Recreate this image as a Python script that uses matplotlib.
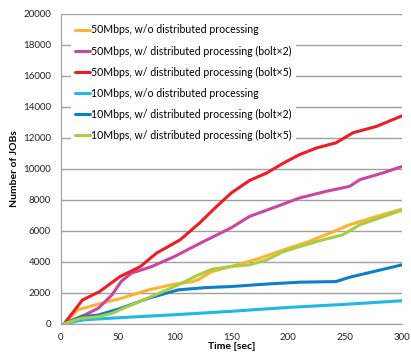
import matplotlib
matplotlib.use('Agg')
import matplotlib.pyplot as plt

plt.rcParams['font.family'] = ['Lato', 'DejaVu Sans']

# time [sec] and number of JOBs
t_50_wo = [3, 15, 30, 53, 77, 100, 116, 121, 133, 151, 175, 196, 216, 240, 254, 278, 300]
v_50_wo = [0, 890, 1210, 1640, 2180, 2550, 2720, 2850, 3370, 3720, 4230, 4770, 5250, 5950, 6390, 6930, 7400]

t_50_b2 = [3, 21, 33, 45, 53, 62, 80, 100, 124, 150, 166, 190, 210, 233, 254, 263, 283, 300]
v_50_b2 = [0, 560, 1000, 1860, 2720, 3260, 3690, 4340, 5250, 6200, 6930, 7570, 8120, 8540, 8870, 9300, 9730, 10150]

t_50_b5 = [3, 19, 34, 52, 70, 84, 105, 122, 136, 150, 166, 181, 196, 210, 225, 242, 257, 278, 300]
v_50_b5 = [0, 1530, 2070, 3040, 3690, 4550, 5420, 6500, 7500, 8450, 9250, 9730, 10380, 10920, 11350, 11680, 12330, 12750, 13420]

t_10_wo = [3, 20, 50, 100, 150, 200, 250, 300]
v_10_wo = [0, 250, 380, 580, 800, 1050, 1250, 1480]

t_10_b2 = [3, 18, 33, 53, 77, 103, 127, 150, 181, 210, 242, 254, 300]
v_10_b2 = [0, 450, 560, 1000, 1640, 2180, 2330, 2400, 2560, 2680, 2720, 3000, 3800]

t_10_b5 = [3, 18, 33, 45, 62, 83, 103, 121, 133, 150, 166, 181, 196, 225, 248, 263, 300]
v_10_b5 = [0, 350, 450, 670, 1210, 1860, 2500, 3150, 3520, 3700, 3800, 4120, 4660, 5310, 5740, 6390, 7330]

series = [
    (t_50_wo, v_50_wo, '#FFB22E', '50Mbps, w/o distributed processing'),
    (t_50_b2, v_50_b2, '#C9479F', '50Mbps, w/ distributed processing (bolt×2)'),
    (t_50_b5, v_50_b5, '#EE1C25', '50Mbps, w/ distributed processing (bolt×5)'),
    (t_10_wo, v_10_wo, '#1EB9EA', '10Mbps, w/o distributed processing'),
    (t_10_b2, v_10_b2, '#0B80C9', '10Mbps, w/ distributed processing (bolt×2)'),
    (t_10_b5, v_10_b5, '#A6CE45', '10Mbps, w/ distributed processing (bolt×5)'),
]

fig = plt.figure(figsize=(4.11, 3.54), dpi=100)
ax = fig.add_axes([0.148, 0.0856, 0.83, 0.875])

for t, v, c, lab in series:
    ax.plot(t, v, color=c, linewidth=2.2, label=lab, solid_capstyle='round')

ax.set_xlim(0, 300)
ax.set_ylim(0, 20000)
ax.set_xticks(range(0, 301, 50))
ax.set_yticks(range(0, 20001, 2000))
ax.yaxis.grid(True, color='#A0A0A0', linewidth=1)
ax.set_axisbelow(True)
ax.tick_params(length=0, labelsize=7, colors='#222222', pad=7)
for s in ['top', 'right']:
    ax.spines[s].set_visible(False)
for s in ['left', 'bottom']:
    ax.spines[s].set_color('#A0A0A0')

ax.set_xlabel('Time [sec]', fontsize=7.5, fontweight='bold', labelpad=0)
ax.set_ylabel('Number of JOBs', fontsize=7.5, fontweight='bold', labelpad=3)

leg = ax.legend(loc='upper left', fontsize=7.6, frameon=True, handlelength=1.4,
                handletextpad=0.1, labelspacing=0.95, borderaxespad=0.3,
                bbox_to_anchor=(0.02, 0.99))
leg.get_frame().set_edgecolor('none')
leg.get_frame().set_facecolor('white')
leg.get_frame().set_alpha(1)

fig.savefig('out.png', dpi=100)
